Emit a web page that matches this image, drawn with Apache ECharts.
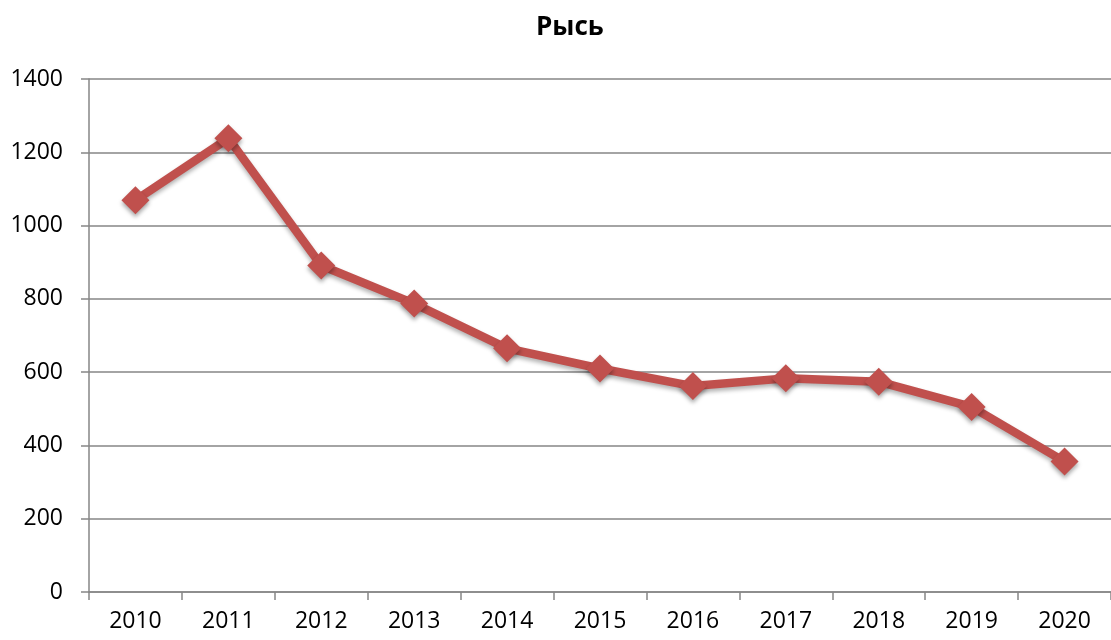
<!DOCTYPE html>
<html><head><meta charset="utf-8">
<script src="https://cdn.jsdelivr.net/npm/echarts@6/dist/echarts.min.js"></script>
<style>html,body{margin:0;padding:0;background:#fff}#c{width:1111px;height:640px}</style>
</head><body><div id="c"></div>
<script>
const titleText = 'Рысь';
const categories = ['2010','2011','2012','2013','2014','2015','2016','2017','2018','2019','2020'];
const values = [1069, 1238, 891, 787, 665, 610, 562, 583, 574, 505, 356];
const yTicks = {min: 0, max: 1400, interval: 200};

const chart = echarts.init(document.getElementById('c'), null, {renderer: 'canvas'});
const font = '"Open Sans", "Noto Sans", sans-serif';
chart.setOption({
  animation: false,
  backgroundColor: '#fff',
  title: {
    text: titleText, left: 531, top: 10,
    textStyle: {fontFamily: font, fontWeight: 'bold', fontSize: 26, color: '#000'}
  },
  grid: {left: 89, top: 79, width: 1027, height: 513, containLabel: false},
  xAxis: {
    type: 'category', data: categories, boundaryGap: true,
    axisLine: {lineStyle: {color: '#868686', width: 1.5}},
    axisTick: {show: true, length: 8, interval: 0, lineStyle: {color: '#868686', width: 1.5}},
    axisLabel: {interval: 0, margin: 18, fontFamily: font, fontSize: 23, color: '#000'},
    splitLine: {show: false}
  },
  yAxis: {
    type: 'value', min: yTicks.min, max: yTicks.max, interval: yTicks.interval,
    axisLine: {show: true, lineStyle: {color: '#868686', width: 1.5}},
    axisTick: {show: true, length: 8, lineStyle: {color: '#868686', width: 1.5}},
    axisLabel: {margin: 26, fontFamily: font, fontSize: 23, color: '#000', formatter: v => String(v)},
    splitLine: {lineStyle: {color: '#868686', width: 1.5}}
  },
  series: [{
    type: 'line', data: values,
    symbol: 'diamond', symbolSize: 28,
    lineStyle: {color: '#C0504D', width: 8.5, shadowColor: 'rgba(0,0,0,0.3)', shadowBlur: 4, shadowOffsetY: 3},
    itemStyle: {color: '#C0504D', shadowColor: 'rgba(0,0,0,0.35)', shadowBlur: 4, shadowOffsetY: 3}
  }]
});
</script></body></html>
